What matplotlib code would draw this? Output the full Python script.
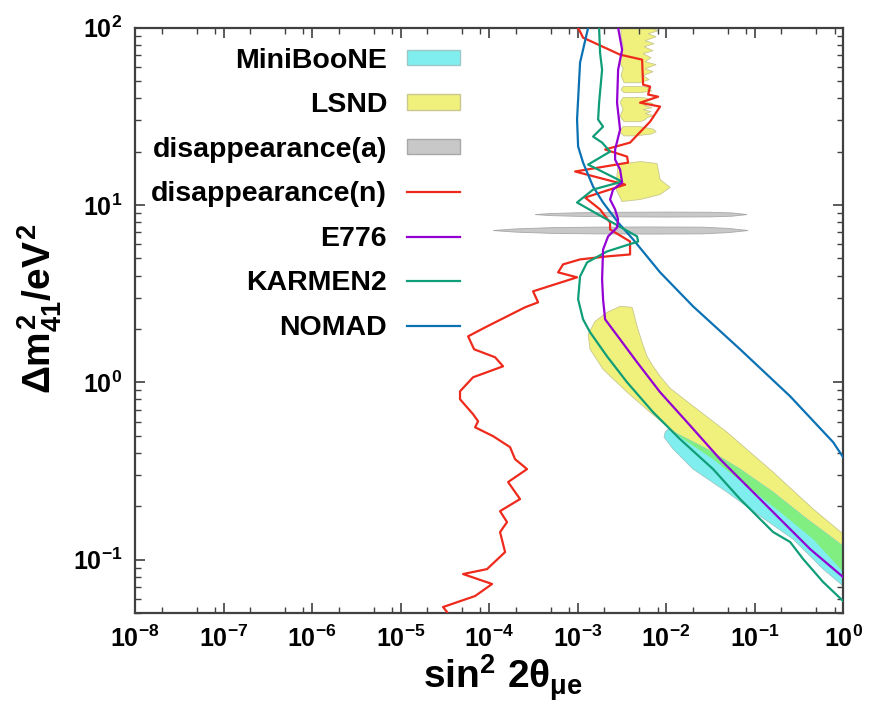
import numpy as np
import matplotlib
matplotlib.use("Agg")
import matplotlib.pyplot as plt
from matplotlib.patches import Patch
from matplotlib.lines import Line2D
from matplotlib.ticker import LogLocator, NullFormatter

# all values are log10(sin^2 2theta), log10(dm^2 / eV^2)

# NOMAD
nomad_lx = [-2.881, -2.972, -3.006, -2.994, -2.938, -2.825, -2.712, -2.542, -2.373,
            -2.068, -1.695, -1.164, -0.599, -0.113, 0.0]
nomad_ly = [2.0, 1.803, 1.482, 1.330, 1.239, 1.104, 1.014, 0.901, 0.806,
            0.620, 0.428, 0.186, -0.079, -0.338, -0.423]

# E776
e776_lx = [-2.542, -2.497, -2.542, -2.554, -2.520, -2.576, -2.576, -2.520, -2.497, -2.599,
           -2.633, -2.576, -2.542, -2.554, -2.655, -2.712, -2.723, -2.712, -2.689, -2.520,
           -2.328, -2.068, -1.763, -1.390, -1.085, -0.712, -0.373, 0.0]
e776_ly = [2.0, 1.876, 1.763, 1.577, 1.425, 1.313, 1.256, 1.200, 1.127, 1.087,
           1.031, 0.975, 0.918, 0.873, 0.823, 0.749, 0.580, 0.468, 0.355, 0.242,
           0.113, -0.056, -0.225, -0.434, -0.586, -0.772, -0.941, -1.099]

# KARMEN2
karmen_lx = [-2.757, -2.746, -2.723, -2.757, -2.768, -2.712, -2.825, -2.723, -2.633, -2.881,
             -2.497, -2.825, -3.006, -2.667, -2.328, -2.316, -2.667, -2.893, -2.972, -2.994,
             -2.938, -2.859, -2.667, -2.441, -2.147, -1.842, -1.469, -1.164, -0.791, -0.599,
             -0.452, -0.226, 0.0]
karmen_ly = [2.0, 1.859, 1.763, 1.577, 1.482, 1.442, 1.386, 1.352, 1.301, 1.228,
             1.132, 1.087, 1.014, 0.918, 0.823, 0.794, 0.738, 0.676, 0.597, 0.468,
             0.355, 0.282, 0.146, 0.0, -0.169, -0.321, -0.490, -0.659, -0.845, -0.901,
             -0.997, -1.127, -1.234]

# disappearance(n)
dis_n_lx = [-2.994, -2.938, -2.520, -2.271, -2.260, -2.181, -2.203, -2.090, -2.294, -2.068,
            -2.181, -2.407, -2.689, -2.441, -2.429, -3.028, -2.463, -2.915, -2.746, -2.633,
            -2.633, -2.407, -2.407, -2.667, -2.972, -3.164, -3.220, -3.006, -3.503, -3.446,
            -3.593, -4.023, -4.237, -4.169, -3.932, -3.842, -4.181, -4.328, -4.328, -4.181,
            -4.124, -4.158, -3.955, -3.763, -3.706, -3.571, -3.785, -3.650, -3.876, -3.797,
            -3.876, -3.819, -4.023, -4.294, -3.966, -4.158, -4.520, -4.475]
dis_n_ly = [2.0, 1.944, 1.848, 1.820, 1.679, 1.668, 1.623, 1.611, 1.577, 1.555,
            1.470, 1.352, 1.313, 1.273, 1.239, 1.189, 1.115, 1.042, 0.975, 0.901,
            0.862, 0.794, 0.721, 0.710, 0.693, 0.665, 0.620, 0.592, 0.513, 0.451,
            0.423, 0.315, 0.259, 0.186, 0.141, 0.090, 0.028, -0.051, -0.096, -0.180,
            -0.220, -0.254, -0.304, -0.366, -0.434, -0.490, -0.563, -0.659, -0.727, -0.789,
            -0.845, -0.958, -1.054, -1.082, -1.138, -1.206, -1.268, -1.296]

# LSND: lower band, middle blob and the comb-like islands at the top
lsnd_band_lx = [-2.667, -2.520, -2.384, -2.362, -2.328, -2.271, -2.215, -2.147, -2.068, -1.955,
                -1.751, -1.311, -0.791, -0.339, 0.0, 0.0, -0.339, -0.712, -1.085, -1.469,
                -1.808, -1.989, -2.181, -2.441, -2.712, -2.859, -2.881, -2.802]
lsnd_band_ly = [0.394, 0.428, 0.423, 0.383, 0.315, 0.225, 0.146, 0.090, 0.034, -0.034,
                -0.113, -0.282, -0.507, -0.715, -0.856, -1.070, -0.885, -0.732, -0.586, -0.434,
                -0.321, -0.248, -0.169, -0.056, 0.073, 0.186, 0.270, 0.344]
lsnd_blob_lx = [-2.542, -2.294, -2.102, -2.068, -1.955, -2.068, -2.294, -2.497, -2.565, -2.554]
lsnd_blob_ly = [1.228, 1.245, 1.234, 1.144, 1.099, 1.059, 1.031, 1.020, 1.087, 1.172]
lsnd_top_a_lx = [-2.181, -2.090, -2.203, -2.113, -2.237, -2.136, -2.248, -2.147, -2.260, -2.170,
                 -2.237, -2.113, -2.237, -2.147, -2.260, -2.192, -2.294,
                 -2.475, -2.509, -2.486, -2.530, -2.497, -2.486, -2.509, -2.509]
lsnd_top_a_ly = [2.0, 1.983, 1.966, 1.949, 1.927, 1.910, 1.893, 1.870, 1.854, 1.831,
                 1.808, 1.792, 1.769, 1.752, 1.730, 1.707, 1.690,
                 1.690, 1.730, 1.770, 1.808, 1.850, 1.900, 1.950, 2.0]
lsnd_top_b_lx = [-2.260, -2.170, -2.215, -2.158, -2.294, -2.475, -2.509, -2.486]
lsnd_top_b_ly = [1.668, 1.660, 1.651, 1.643, 1.634, 1.634, 1.651, 1.668]
lsnd_top_c_lx = [-2.260, -2.170, -2.237, -2.147, -2.248, -2.158, -2.260, -2.170, -2.237, -2.136,
                 -2.215, -2.237, -2.294, -2.475, -2.520, -2.486, -2.520, -2.486]
lsnd_top_c_ly = [1.606, 1.595, 1.583, 1.572, 1.561, 1.549, 1.538, 1.527, 1.515, 1.504,
                 1.493, 1.481, 1.470, 1.470, 1.500, 1.540, 1.580, 1.606]
lsnd_top_d_lx = [-2.294, -2.147, -2.113, -2.170, -2.350, -2.475, -2.530, -2.486]
lsnd_top_d_ly = [1.442, 1.428, 1.414, 1.400, 1.390, 1.390, 1.414, 1.442]

# MiniBooNE
mb_lx = [-2.011, -1.977, -1.842, -1.537, -1.164, -0.791, -0.407, 0.0,
         0.0, -0.226, -0.565, -0.938, -1.311, -1.695, -1.921, -2.023]
mb_ly = [-0.282, -0.265, -0.299, -0.377, -0.490, -0.620, -0.772, -0.924,
         -1.149, -1.054, -0.885, -0.755, -0.620, -0.490, -0.377, -0.310]

# disappearance(a): two thin lenses
dis_a1_lx = [-3.480, -3.300, -3.000, -2.500, -2.000, -1.500, -1.250, -1.085,
             -1.250, -1.500, -2.000, -2.500, -3.000, -3.300]
dis_a1_ly = [0.946, 0.952, 0.956, 0.959, 0.960, 0.959, 0.955, 0.946,
             0.937, 0.933, 0.932, 0.933, 0.936, 0.940]
dis_a2_lx = [-3.955, -3.700, -3.300, -2.800, -2.200, -1.600, -1.300, -1.073,
             -1.300, -1.600, -2.200, -2.800, -3.300, -3.700]
dis_a2_ly = [0.856, 0.865, 0.872, 0.875, 0.876, 0.875, 0.868, 0.856,
             0.844, 0.837, 0.836, 0.837, 0.840, 0.847]

c_cyan = "#80eeee"
c_yellow = "#f0f07c"
c_green_fill = "#80ee80"
c_gray = "#c8c8c8"
c_red = "#ee2a1c"
c_purple = "#9400d3"
c_green = "#109e78"
c_blue = "#0a72b4"

plt.rcParams["font.family"] = ["Liberation Sans", "DejaVu Sans"]
plt.rcParams["font.weight"] = "bold"
plt.rcParams["mathtext.fontset"] = "custom"
plt.rcParams["mathtext.rm"] = "Liberation Sans:bold"
plt.rcParams["mathtext.it"] = "Liberation Sans:bold"
plt.rcParams["mathtext.bf"] = "Liberation Sans:bold"
plt.rcParams["axes.unicode_minus"] = False


def p10(v):
    return np.power(10.0, np.asarray(v))


fig = plt.figure(figsize=(8.71, 7.11), dpi=100)
ax = fig.add_axes([0.155, 0.138, 0.813, 0.823])
ax.set_xscale("log")
ax.set_yscale("log")

yellow_kw = dict(facecolor=c_yellow, edgecolor="#c8c890", linewidth=0.6, zorder=1)
band = ax.fill(p10(lsnd_band_lx), p10(lsnd_band_ly), **yellow_kw)[0]
ax.fill(p10(lsnd_blob_lx), p10(lsnd_blob_ly), **yellow_kw)
for lx, ly in [(lsnd_top_a_lx, lsnd_top_a_ly), (lsnd_top_b_lx, lsnd_top_b_ly),
               (lsnd_top_c_lx, lsnd_top_c_ly), (lsnd_top_d_lx, lsnd_top_d_ly)]:
    ax.fill(p10(lx), p10(ly), **yellow_kw)

ax.fill(p10(mb_lx), p10(mb_ly), facecolor=c_cyan, edgecolor="#9cc8c8",
        linewidth=0.6, zorder=2)
# overlap of LSND and MiniBooNE shows as green
overlap = ax.fill(p10(mb_lx), p10(mb_ly), facecolor=c_green_fill, edgecolor="none", zorder=2.5)[0]
overlap.set_clip_path(band)

for lx, ly in [(dis_a1_lx, dis_a1_ly), (dis_a2_lx, dis_a2_ly)]:
    ax.fill(p10(lx), p10(ly), facecolor=c_gray, edgecolor="#a8a8a8", linewidth=0.6, zorder=3)

ax.plot(p10(dis_n_lx), p10(dis_n_ly), color=c_red, lw=1.6, zorder=4)
ax.plot(p10(nomad_lx), p10(nomad_ly), color=c_blue, lw=1.6, zorder=4)
ax.plot(p10(karmen_lx), p10(karmen_ly), color=c_green, lw=1.6, zorder=5)
ax.plot(p10(e776_lx), p10(e776_ly), color=c_purple, lw=1.6, zorder=6)

ax.set_xlim(1e-8, 1)
ax.set_ylim(0.05, 100)

ax.xaxis.set_major_locator(LogLocator(base=10, numticks=20))
ax.xaxis.set_minor_locator(LogLocator(base=10, subs=(2, 5, 8), numticks=20))
ax.yaxis.set_minor_locator(LogLocator(base=10, subs=np.arange(2, 10), numticks=20))
ax.xaxis.set_minor_formatter(NullFormatter())
ax.yaxis.set_minor_formatter(NullFormatter())
ax.tick_params(which="both", direction="in", top=True, right=True, color="#404040")
ax.tick_params(which="major", length=7, width=1.2, labelsize=18, pad=9)
ax.tick_params(which="minor", length=4, width=1.0)
for s in ax.spines.values():
    s.set_color("#404040")
    s.set_linewidth(1.6)

ax.set_xlabel(r"$\sin^2\, 2\theta_{\mu e}$", fontsize=28)
ax.set_ylabel(r"$\Delta m^2_{41}/eV^2$", fontsize=28)
ax.xaxis.set_label_coords(0.52, -0.068)
ax.yaxis.set_label_coords(-0.1, 0.52)

handles = [
    Patch(facecolor=c_cyan, edgecolor="#9cc8c8", label="MiniBooNE"),
    Patch(facecolor=c_yellow, edgecolor="#c8c890", label="LSND"),
    Patch(facecolor=c_gray, edgecolor="#a8a8a8", label="disappearance(a)"),
    Line2D([], [], color=c_red, lw=1.6, label="disappearance(n)"),
    Line2D([], [], color=c_purple, lw=1.6, label="E776"),
    Line2D([], [], color=c_green, lw=1.6, label="KARMEN2"),
    Line2D([], [], color=c_blue, lw=1.6, label="NOMAD"),
]
ax.legend(handles=handles, loc="upper right", bbox_to_anchor=(0.495, 1.01),
          frameon=False, markerfirst=False, labelspacing=0.65,
          handlelength=1.86, handleheight=0.46, handletextpad=0.7,
          prop={"weight": "bold", "size": 20.5})

fig.savefig("out.png", dpi=100)
